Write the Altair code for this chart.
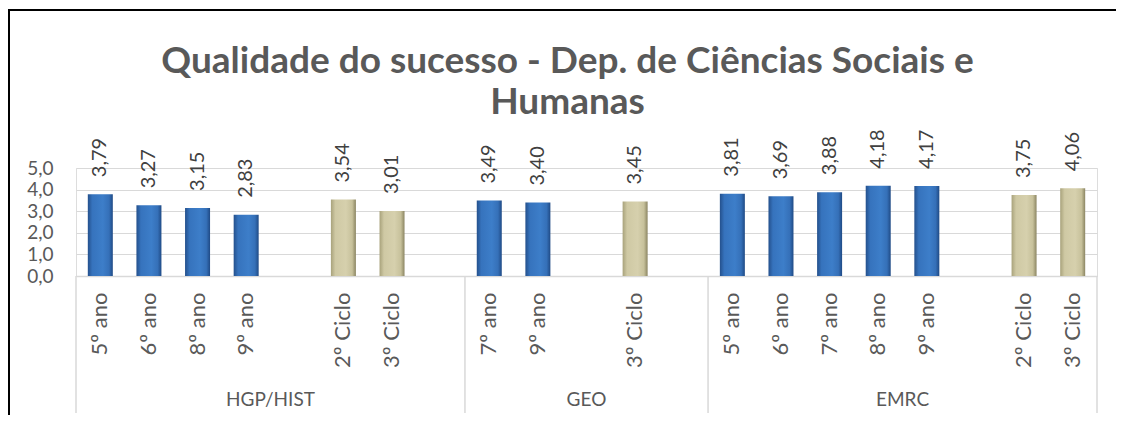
import altair as alt
import pandas as pd

# ---- data ----
groups = ["HGP/HIST"] * 8 + ["GEO"] * 5 + ["EMRC"] * 8
categories = ["5º ano", "6º ano", "8º ano", "9º ano", "", "2º Ciclo", "3º Ciclo", "",
              "7º ano", "9º ano", "", "3º Ciclo", "",
              "5º ano", "6º ano", "7º ano", "8º ano", "9º ano", "", "2º Ciclo", "3º Ciclo"]
values = [3.79, 3.27, 3.15, 2.83, None, 3.54, 3.01, None,
          3.49, 3.40, None, 3.45, None,
          3.81, 3.69, 3.88, 4.18, 4.17, None, 3.75, 4.06]
group_names = ["HGP/HIST", "GEO", "EMRC"]
y_ticks = [0, 1, 2, 3, 4, 5]
title_lines = ["Qualidade do sucesso - Dep. de Ciências Sociais e", "Humanas"]

# ---- tables ----
slots = [f"{i:02d}|{c}" for i, c in enumerate(categories)]
df = pd.DataFrame({"slot": slots, "cat": categories, "grp": groups, "value": values})
df["kind"] = ["Ciclo" if "Ciclo" in c else "ano" for c in categories]
bars = df.dropna(subset=["value"]).copy()
bars["label"] = bars["value"].map(lambda v: f"{v:.2f}".replace(".", ","))

first_idx = [groups.index(g) for g in group_names]
last_idx = [len(groups) - 1 - groups[::-1].index(g) for g in group_names]
sep_start = pd.DataFrame({"slot": [slots[i] for i in first_idx]})
sep_end = pd.DataFrame({"slot": [slots[last_idx[-1]]]})
grp_mid_rows, grp_edge_rows = [], []
for g, a, b in zip(group_names, first_idx, last_idx):
    c = (a + b) / 2
    if c == int(c):
        grp_mid_rows.append({"slot": slots[int(c)], "grp": g})
    else:
        grp_edge_rows.append({"slot": slots[int(c) + 1], "grp": g})
grp_mid = pd.DataFrame(grp_mid_rows)
grp_edge = pd.DataFrame(grp_edge_rows)

FONT = "Lato"
GRAY = "#595959"
LINE = "#D9D9D9"

x_scale = alt.Scale(domain=slots, paddingInner=0, paddingOuter=0)
x_axis = alt.Axis(title=None, labelExpr="split(datum.value,'|')[1]", labelAngle=-90,
                  labelFont=FONT, labelFontSize=22, labelColor=GRAY, labelPadding=16,
                  ticks=False, tickSize=0, domain=True, domainColor=LINE, domainWidth=1.5,
                  grid=False, labelOverlap=False)
y_scale = alt.Scale(domain=[0, 5], nice=False, zero=True)
y_axis = alt.Axis(title=None, values=y_ticks, labelExpr="replace(format(datum.value,'.1f'),'.',',')",
                  labelFont=FONT, labelFontSize=19, labelColor=GRAY, labelPadding=23,
                  ticks=False, domain=False, grid=True, gridColor=LINE, gridWidth=1.2)

def xenc(bp=None):
    if bp is None:
        return alt.X("slot:N", scale=x_scale, axis=x_axis)
    return alt.X("slot:N", scale=x_scale, axis=x_axis, bandPosition=bp)

blue = alt.Gradient(gradient="linear", x1=0, x2=1, y1=0, y2=0, stops=[
    alt.GradientStop(color="#24508c", offset=0),
    alt.GradientStop(color="#3673bd", offset=0.18),
    alt.GradientStop(color="#3d7ec9", offset=0.6),
    alt.GradientStop(color="#3570b8", offset=0.85),
    alt.GradientStop(color="#1f4a85", offset=1)])
tan = alt.Gradient(gradient="linear", x1=0, x2=1, y1=0, y2=0, stops=[
    alt.GradientStop(color="#a8a27b", offset=0),
    alt.GradientStop(color="#cfc9a4", offset=0.18),
    alt.GradientStop(color="#d6d0ad", offset=0.6),
    alt.GradientStop(color="#c7c19b", offset=0.85),
    alt.GradientStop(color="#8b8562", offset=1)])

base = alt.Chart(bars)
bars_ano = base.transform_filter("datum.kind == 'ano'").mark_bar(width=25, fill=blue).encode(
    x=xenc(), y=alt.Y("value:Q", scale=y_scale, axis=y_axis))
bars_ciclo = base.transform_filter("datum.kind == 'Ciclo'").mark_bar(width=25, fill=tan).encode(
    x=xenc(), y=alt.Y("value:Q", scale=y_scale, axis=y_axis))
labels = base.mark_text(angle=270, align="left", baseline="middle", dx=17,
                        font=FONT, fontSize=20, color="#404040").encode(
    x=xenc(), y=alt.Y("value:Q", scale=y_scale, axis=y_axis), text="label:N")

sep1 = alt.Chart(sep_start).mark_rule(color=LINE, strokeWidth=1.5).encode(
    x=xenc(0), y=alt.value(108), y2=alt.value(245))
sep2 = alt.Chart(sep_end).mark_rule(color=LINE, strokeWidth=1.5).encode(
    x=xenc(1), y=alt.value(108), y2=alt.value(245))
g1 = alt.Chart(grp_mid).mark_text(font=FONT, fontSize=19, color=GRAY, baseline="middle").encode(
    x=xenc(), y=alt.value(232), text="grp:N")
g2 = alt.Chart(grp_edge).mark_text(font=FONT, fontSize=19, color=GRAY, baseline="middle").encode(
    x=xenc(0), y=alt.value(232), text="grp:N")

frame_df = pd.DataFrame({"k": [0]})
frame_left = alt.Chart(frame_df).mark_rule(color="black", strokeWidth=2).encode(
    x=alt.value(-67), y=alt.value(-158), y2=alt.value(247))
frame_top = alt.Chart(frame_df).mark_rule(color="black", strokeWidth=2).encode(
    x=alt.value(-68), x2=alt.value(1040), y=alt.value(-158))

chart = alt.layer(sep1, sep2, bars_ano, bars_ciclo, labels, g1, g2, frame_left, frame_top).properties(
    width=1021, height=108,
    padding={"left": 68, "top": 160, "right": 19, "bottom": 139},
    autosize=alt.AutoSizeParams(type="none"),
    title=alt.TitleParams(text=title_lines, font=FONT, fontSize=37, fontWeight="bold", color=GRAY,
                          anchor="middle", dx=-19, offset=-142, baseline="alphabetic", lineHeight=41),
).configure_view(stroke=None).configure(background="white")

chart.save("out.html", embed_options={"renderer": "svg", "actions": False})
